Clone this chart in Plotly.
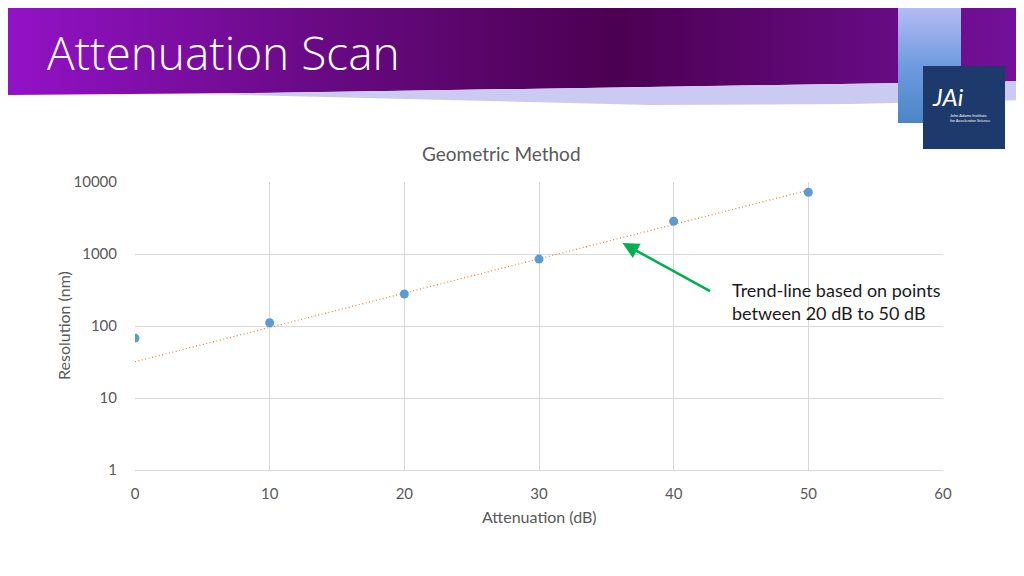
import numpy as np
import plotly.graph_objects as go

# data
attenuation_db = [0, 10, 20, 30, 40, 50]
resolution_nm = [68, 111, 278, 850, 2850, 7200]
fit_from_db = 20  # trend-line uses points 20..50 dB
y_tickvals = [1, 10, 100, 1000, 10000]
x_tickvals = [0, 10, 20, 30, 40, 50, 60]

# page is 1024x576 but the figure div sits 8px in (body margin)
PAGE_W, PAGE_H, OFF = 1024, 576, 8
W, H = PAGE_W - OFF, PAGE_H - OFF
plot_l, plot_r, plot_t, plot_b = 135, 943, 182, 470  # page pixels
FONT = "Lato"
GREY = "#595959"

# exponential trendline (as excel does it: linear fit on log10)
xs = np.array(attenuation_db, dtype=float)
ys = np.array(resolution_nm, dtype=float)
sel = xs >= fit_from_db
slope, icept = np.polyfit(xs[sel], np.log10(ys[sel]), 1)
trend_x = [attenuation_db[0], attenuation_db[-1]]
trend_y = [10 ** (icept + slope * v) for v in trend_x]

fig = go.Figure()

# ---- slide decoration on a page-pixel axis pair ----
banner_x = [0, 1024, 1024, 850, 650, 450, 250, 0, 0]
banner_y = [8, 8, 81, 84, 87, 90, 93, 95, 8]
fig.add_trace(go.Scatter(
    x=banner_x, y=banner_y, xaxis="x2", yaxis="y2", mode="lines",
    line=dict(width=0), fill="toself", hoverinfo="skip", showlegend=False,
    fillgradient=dict(type="horizontal", colorscale=[
        [0, "#9412c9"], [0.3, "#6a0a86"], [0.6, "#4c0052"], [1, "#74109c"]]),
))
shadow_x = [200, 450, 650, 850, 1024, 1024, 850, 650, 450, 200]
shadow_y = [94, 90, 87, 84, 81, 100, 104, 105, 100, 94]
fig.add_trace(go.Scatter(
    x=shadow_x, y=shadow_y, xaxis="x2", yaxis="y2", mode="lines",
    line=dict(width=0), fill="toself", fillcolor="#cacaf2",
    hoverinfo="skip", showlegend=False,
))
bar_x = [898, 961, 961, 898, 898]
bar_y = [8, 8, 123, 123, 8]
fig.add_trace(go.Scatter(
    x=bar_x, y=bar_y, xaxis="x2", yaxis="y2", mode="lines",
    line=dict(width=0), fill="toself", hoverinfo="skip", showlegend=False,
    fillgradient=dict(type="vertical", colorscale=[
        [0, "#4a86c6"], [0.5, "#6f9be0"], [1, "#b4bcf2"]]),
))

# ---- chart ----
fig.add_trace(go.Scatter(
    x=trend_x, y=trend_y, mode="lines",
    line=dict(color="#ED7D31", width=1.2, dash="1px,2.5px"),
    hoverinfo="skip", showlegend=False,
))
fig.add_trace(go.Scatter(
    x=attenuation_db, y=resolution_nm, mode="markers",
    marker=dict(color="#5B9BD5", size=9),
    showlegend=False,
))

shapes = [
    dict(type="rect", xref="x2", yref="y2", x0=923, x1=1005, y0=66, y1=149,
         fillcolor="#1e3a6c", line=dict(width=0), layer="above"),
]

annotations = [
    dict(text="Attenuation Scan", xref="x2", yref="y2", x=45, y=52,
         xanchor="left", yanchor="middle", showarrow=False,
         font=dict(family="Open Sans", size=46, weight=300, color="white")),
    dict(text="<i>JAi</i>", xref="x2", yref="y2", x=930, y=96,
         xanchor="left", yanchor="middle", showarrow=False,
         font=dict(family=FONT, size=24, color="white")),
    dict(text="John Adams Institute<br>for Accelerator Science", xref="x2", yref="y2",
         x=948, y=118, xanchor="left", yanchor="middle", showarrow=False, align="left",
         font=dict(family=FONT, size=4, color="white")),
    dict(text="Geometric Method", xref="x2", yref="y2", x=501, y=153,
         xanchor="center", yanchor="middle", showarrow=False,
         font=dict(family=FONT, size=19, color=GREY)),
    dict(text="Resolution (nm)", xref="x2", yref="y2", x=63, y=326,
         xanchor="center", yanchor="middle", showarrow=False, textangle=-90,
         font=dict(family=FONT, size=16, color=GREY)),
    dict(text="Attenuation (dB)", xref="x2", yref="y2", x=539, y=516,
         xanchor="center", yanchor="middle", showarrow=False,
         font=dict(family=FONT, size=16, color=GREY)),
    # green arrow pointing at the trend-line
    dict(text="", x=36.2, y=float(np.log10(1420)), xref="x", yref="y",
         showarrow=True, arrowhead=2, arrowsize=1.3, arrowwidth=2.5,
         arrowcolor="#00B050", ax=89, ay=49, axref="pixel", ayref="pixel",
         standoff=0),
    dict(text="Trend-line based on points<br>between 20 dB to 50 dB",
         xref="x2", yref="y2", x=730, y=301, xanchor="left", yanchor="middle",
         align="left", showarrow=False,
         font=dict(family=FONT, size=18, color="#1a1a1a")),
]

fig.update_layout(
    width=W, height=H,
    margin=dict(l=0, r=0, t=0, b=0, autoexpand=False),
    paper_bgcolor="white", plot_bgcolor="rgba(0,0,0,0)",
    font=dict(family=FONT, color=GREY),
    xaxis=dict(
        domain=[(plot_l - OFF) / W, (plot_r - OFF) / W], range=[0, 60],
        automargin=False,
        tickvals=x_tickvals, showgrid=True, gridcolor="#d9d9d9", gridwidth=1,
        zeroline=False, showline=True, linecolor="#d9d9d9",
        ticks="outside", ticklen=10, tickcolor="rgba(0,0,0,0)",
        tickfont=dict(family=FONT, size=15, color=GREY), anchor="y",
    ),
    yaxis=dict(
        domain=[(PAGE_H - plot_b) / H, (PAGE_H - plot_t) / H], type="log",
        range=[0, 4], automargin=False,
        tickvals=y_tickvals, ticktext=[str(v) for v in y_tickvals],
        showgrid=True, gridcolor="#d9d9d9", gridwidth=1,
        zeroline=False, showline=False,
        ticks="outside", ticklen=14, tickcolor="rgba(0,0,0,0)",
        tickfont=dict(family=FONT, size=15, color=GREY), anchor="x",
    ),
    xaxis2=dict(domain=[0, 1], range=[OFF, PAGE_W], visible=False, anchor="y2",
                fixedrange=True, automargin=False),
    yaxis2=dict(domain=[0, 1], range=[PAGE_H, OFF], visible=False, anchor="x2",
                fixedrange=True, automargin=False),
    shapes=shapes,
    annotations=annotations,
)

fig.write_html("out.html")
